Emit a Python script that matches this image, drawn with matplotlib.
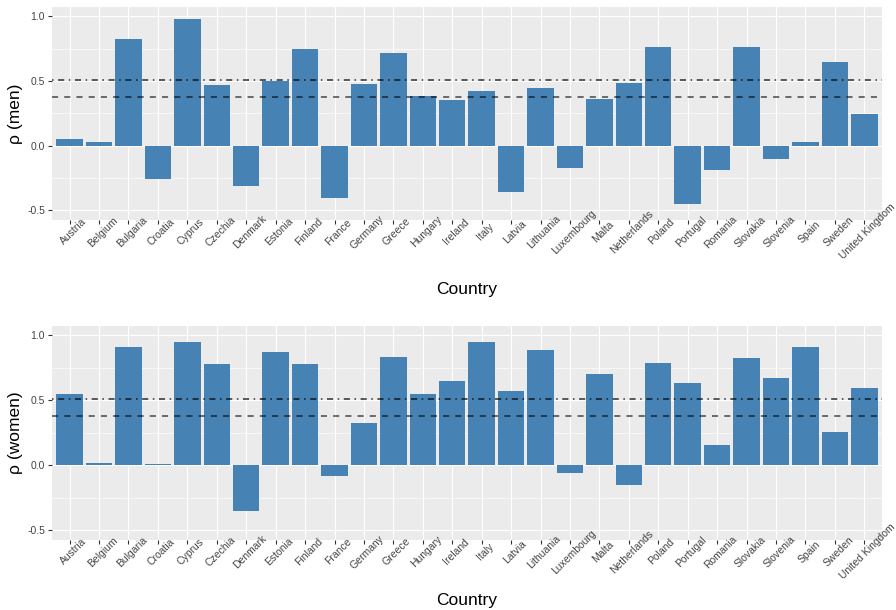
"""Per-country correlation bars for men and women, ggplot-like styling."""

import numpy as np
from matplotlib import pyplot as plt
from matplotlib.ticker import FixedLocator

plt.rcParams["font.family"] = ["Liberation Sans", "DejaVu Sans"]

countries = [
    "Austria", "Belgium", "Bulgaria", "Croatia", "Cyprus", "Czechia", "Denmark",
    "Estonia", "Finland", "France", "Germany", "Greece", "Hungary", "Ireland",
    "Italy", "Latvia", "Lithuania", "Luxembourg", "Malta", "Netherlands",
    "Poland", "Portugal", "Romania", "Slovakia", "Slovenia", "Spain", "Sweden",
    "United Kingdom",
]

rho_men = [
    0.05, 0.03, 0.825, -0.258, 0.979, 0.469, -0.309,
    0.503, 0.747, -0.402, 0.477, 0.716, 0.384, 0.353,
    0.423, -0.358, 0.446, -0.173, 0.361, 0.485,
    0.763, -0.451, -0.188, 0.763, -0.103, 0.028, 0.647,
    0.245,
]

rho_women = [
    0.546, 0.021, 0.907, 0.008, 0.946, 0.776, -0.354,
    0.868, 0.783, -0.08, 0.329, 0.83, 0.546, 0.645,
    0.946, 0.568, 0.884, -0.057, 0.699, -0.149,
    0.784, 0.637, 0.159, 0.822, 0.668, 0.907, 0.259,
    0.591,
]

# reference levels drawn across both panels
ref_dotdash = 0.51
ref_dashed = 0.38

BAR = "#4682B4"
PANEL_BG = "#EBEBEB"
TICK_TXT = "#444444"
W, H = 896, 610


def draw_panel(ax, values, ylabel):
    x = np.arange(len(countries))
    ax.set_facecolor(PANEL_BG)
    for s in ax.spines.values():
        s.set_visible(False)

    ax.bar(x, values, width=0.9, color=BAR, zorder=2)
    ax.axhline(ref_dotdash, color="black", alpha=0.8, lw=1.1,
               dashes=(1, 3, 4, 3), zorder=3)
    ax.axhline(ref_dashed, color="black", alpha=0.7, lw=1.1,
               dashes=(4, 4), zorder=3)

    ax.set_xlim(-0.6, len(countries) - 0.4)
    ax.set_ylim(-0.575, 1.072)
    ax.set_xticks(x)
    ax.set_xticklabels(countries, rotation=45, ha="center", va="top",
                       rotation_mode="anchor", fontsize=7.5, color=TICK_TXT)
    ax.set_yticks([-0.5, 0.0, 0.5, 1.0])
    ax.set_yticklabels(["-0.5", "0.0", "0.5", "1.0"], fontsize=7.5,
                       color=TICK_TXT)
    ax.yaxis.set_minor_locator(FixedLocator([-0.25, 0.25, 0.75]))
    ax.tick_params(axis="both", which="major", length=3, width=0.8,
                   color="#333333", pad=2)
    ax.tick_params(axis="x", which="major", pad=3)
    ax.tick_params(axis="y", which="minor", length=0)

    ax.grid(which="major", color="white", lw=0.85, zorder=0)
    ax.grid(which="minor", axis="y", color="white", lw=0.45, zorder=0)
    ax.set_axisbelow(True)

    ax.set_ylabel(ylabel, fontsize=12.5, color="black")
    ax.yaxis.set_label_coords(-0.035, 0.5)


fig = plt.figure(figsize=(W / 100, H / 100), dpi=100)
ax_men = fig.add_axes([0.058, 0.6393, 0.9263, 0.3492])
ax_women = fig.add_axes([0.058, 0.1148, 0.9263, 0.3508])

draw_panel(ax_men, rho_men, "ρ (men)")
draw_panel(ax_women, rho_women, "ρ (women)")

# x-axis titles sit under the rotated country names
cx = 0.058 + 0.9263 / 2
fig.text(cx, 1 - 282 / H, "Country", fontsize=12.5, ha="center", va="top")
fig.text(cx, 1 - 593 / H, "Country", fontsize=12.5, ha="center", va="top")

fig.savefig("out.png", dpi=100)
plt.close(fig)
